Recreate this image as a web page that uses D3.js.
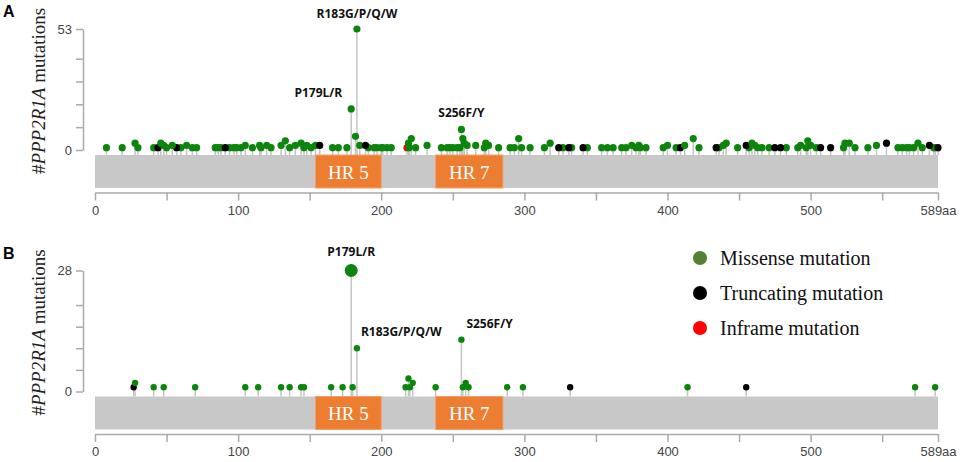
<!DOCTYPE html>
<html>
<head>
<meta charset="utf-8">
<script src="https://cdn.jsdelivr.net/npm/d3@7"></script>
<style>
  body { margin: 0; background: #fff; }
  svg { display: block; }
</style>
</head>
<body>
<svg id="chart"></svg>
<script>
// protein length and domains
var proteinLength = 589;
var domainNames = ["HR 5", "HR 7"];
var domainStarts = [154, 238];
var domainEnds = [200, 285];

// panel A mutations: [amino acid, count]
var missenseA = [
  [8, 1], [19, 1], [28, 3], [30, 1], [41, 1], [46, 3], [48, 2], [50, 1], [54, 2], [60, 1],
  [64, 2], [68, 1], [71, 1], [84, 1], [86, 1], [88, 1], [94, 1], [97, 1], [99, 1], [102, 1],
  [105, 2], [110, 1], [115, 2], [116, 1], [120, 2], [123, 1], [130, 2], [133, 4], [136, 1], [140, 2],
  [144, 3], [146, 1], [148, 2], [151, 1], [154, 2], [166, 1], [170, 1], [176, 1], [179, 18], [182, 6],
  [183, 53], [185, 2], [191, 1], [195, 1], [197, 1], [200, 1], [201, 1], [204, 1], [207, 1], [219, 3],
  [219.5, 1], [221, 5], [224, 1], [232, 2], [242, 1], [246, 1], [248, 1], [250, 1], [253, 1], [255, 1], [256, 9],
  [257, 5], [258, 3], [260, 2], [266, 2], [272, 1], [273, 3], [275, 2], [282, 1], [290, 1], [293, 1],
  [296, 5], [298, 1], [304, 1], [314, 1], [318, 3], [327, 1], [333, 1], [344, 1], [354, 1], [358, 1],
  [362, 1], [368, 1], [371, 1], [375, 2], [378, 1], [380, 2], [381, 1], [385, 1], [397, 1], [400, 2],
  [406, 1], [412, 2], [418, 5], [422, 1], [436, 1], [439, 2], [441, 3], [449, 1], [457, 1], [459, 3],
  [461, 2], [463, 1], [466, 1], [471, 1], [483, 1], [491, 1], [493, 2], [497, 1], [498, 4], [500, 2],
  [504, 1], [523, 1], [524, 3], [527, 3], [531, 1], [540, 1], [546, 2], [561, 1], [564, 1], [567, 1],
  [569, 1], [572, 1], [575, 3], [578, 1], [586, 1], [587, 1]
];
var truncatingA = [
  [44, 1], [57, 1], [91, 1], [157, 2], [189, 2], [324, 1], [331, 1], [341, 1], [409, 1], [434, 1],
  [455, 2], [475, 1], [479, 1], [507, 1], [514, 1], [553, 3], [583, 2], [589, 1]
];
var inframeA = [[218, 1]];
var hotspotsA = [[183, "R183G/P/Q/W"], [179, "P179L/R"], [256, "S256F/Y"]];

// panel B mutations
var missenseB = [
  [28, 2], [41, 1], [48, 1], [70, 1], [105, 1], [114, 1], [130, 1], [136, 1], [144, 1], [146, 1],
  [165, 1], [173, 1], [179, 28], [180, 1], [183, 10], [217, 1], [219, 3], [220, 1], [222, 2], [238, 1],
  [256, 12], [257, 1], [259, 2], [261, 1], [288, 1], [299, 1], [414, 1], [573, 1], [587, 1]
];
var truncatingB = [[27, 1], [332, 1], [455, 1]];
var inframeB = [];
var hotspotsB = [[179, "P179L/R"], [183, "R183G/P/Q/W"], [256, "S256F/Y"]];

var legendNames = ["Missense mutation", "Truncating mutation", "Inframe mutation"];
var legendColors = ["#548235", "#000000", "#ff0000"];

var width = 961, height = 462;
var dotColors = { missense: "#0b850b", truncating: "#000000", inframe: "#ff0000" };

var svg = d3.select("#chart").attr("width", width).attr("height", height);

var x = d3.scaleLinear().domain([0, proteinLength]).range([95, 938]);

function buildMuts(missense, truncating, inframe) {
  var all = [];
  inframe.forEach((d) => all.push({ pos: d[0], count: d[1], type: "inframe" }));
  missense.forEach((d) => all.push({ pos: d[0], count: d[1], type: "missense" }));
  truncating.forEach((d) => all.push({ pos: d[0], count: d[1], type: "truncating" }));
  // draw short lollipops first so tall ones stay on top
  return all.sort((a, b) => a.count - b.count);
}

function drawPanel(top, letter, muts, hotspots, labelStyle, bigMax) {
  var g = svg.append("g").attr("transform", `translate(0, ${top})`);
  var maxCount = d3.max(muts, (d) => d.count);

  var y = d3.scaleLinear().domain([0, maxCount]).range([150, 29]);

  // panel letter
  g.append("text")
    .attr("x", 3)
    .attr("y", 17)
    .attr("font-family", "Liberation Sans, Arial, sans-serif")
    .attr("font-weight", "bold")
    .attr("font-size", 16)
    .text(letter);

  // y axis label
  var yl = g.append("text")
    .attr("transform", "translate(45, 91) rotate(-90)")
    .attr("text-anchor", "middle")
    .attr("font-family", "Liberation Serif, Times New Roman, serif")
    .attr("font-size", 19)
    .attr("fill", "#222");
  yl.append("tspan").text("#");
  yl.append("tspan").attr("font-style", "italic").text("PPP2R1A");
  yl.append("tspan").text(" mutations");

  // y axis
  var yTicks = y.ticks(5).slice(0, -1).concat([maxCount]);
  var yAxis = g.append("g")
    .attr("transform", "translate(83, 0)")
    .call(
      d3.axisLeft(y)
        .tickValues(yTicks)
        .tickSize(7)
        .tickSizeOuter(0)
        .tickPadding(4)
        .tickFormat((d) => (d === 0 || d === maxCount ? d : ""))
    );
  yAxis.select(".domain").attr("stroke", "#aaa").attr("stroke-width", 1.5);
  yAxis.selectAll(".tick line").attr("stroke", "#aaa").attr("stroke-width", 1.5);
  yAxis.selectAll(".tick text")
    .attr("font-family", "Liberation Sans, Arial, sans-serif")
    .attr("font-size", 13)
    .attr("fill", "#444");

  // stems
  g.selectAll("line.stem")
    .data(muts)
    .enter()
    .append("line")
    .attr("class", "stem")
    .attr("x1", (d) => x(d.pos))
    .attr("x2", (d) => x(d.pos))
    .attr("y1", 155)
    .attr("y2", (d) => y(d.count))
    .attr("stroke", "#c4c4c4")
    .attr("stroke-width", 1.5);

  // protein bar
  g.append("rect")
    .attr("x", x(0))
    .attr("y", 155)
    .attr("width", x(proteinLength) - x(0))
    .attr("height", 33)
    .attr("fill", "#c8c8c8");

  // domains
  domainNames.forEach((name, i) => {
    g.append("rect")
      .attr("x", x(domainStarts[i]))
      .attr("y", 155)
      .attr("width", x(domainEnds[i]) - x(domainStarts[i]))
      .attr("height", 33)
      .attr("fill", "#ed7d31")
      .attr("stroke", "#f3a070")
      .attr("stroke-width", 1);
    g.append("text")
      .attr("x", (x(domainStarts[i]) + x(domainEnds[i])) / 2)
      .attr("y", 178.5)
      .attr("text-anchor", "middle")
      .attr("font-family", "Liberation Serif, Times New Roman, serif")
      .attr("font-size", 19)
      .attr("fill", "#fff")
      .text(name);
  });

  // dots
  g.selectAll("circle.mut")
    .data(muts)
    .enter()
    .append("circle")
    .attr("class", "mut")
    .attr("cx", (d) => x(d.pos))
    .attr("cy", (d) => y(d.count))
    .attr("r", (d) => (bigMax && d.count === maxCount ? 6.5 : bigMax ? 3.2 : 3.6))
    .attr("fill", (d) => dotColors[d.type]);

  // hotspot labels
  var byPos = {};
  muts.forEach((d) => {
    if (!byPos[d.pos] || byPos[d.pos].count < d.count) byPos[d.pos] = d;
  });
  hotspots.forEach((h) => {
    var m = byPos[h[0]];
    var st = labelStyle[h[0]];
    g.append("text")
      .attr("x", x(h[0]) + st.dx)
      .attr("y", y(m.count) - st.dy)
      .attr("text-anchor", st.anchor)
      .attr("font-family", "Open Sans, sans-serif")
      .attr("font-weight", "bold")
      .attr("font-size", 12)
      .attr("fill", "#111")
      .text(h[1]);
  });

  // x axis
  var xTicks = d3.range(0, proteinLength, 50).concat([proteinLength]);
  var xAxis = g.append("g")
    .attr("transform", "translate(0, 192.5)")
    .call(
      d3.axisBottom(x)
        .tickValues(xTicks)
        .tickSize(8)
        .tickSizeOuter(0)
        .tickPadding(5)
        .tickFormat((d) => (d === proteinLength ? d + "aa" : d % 100 === 0 ? d : ""))
    );
  xAxis.select(".domain").attr("stroke", "#aaa").attr("stroke-width", 1.5);
  xAxis.selectAll(".tick line").attr("stroke", "#aaa").attr("stroke-width", 1.5);
  xAxis.selectAll(".tick text")
    .attr("font-family", "Liberation Sans, Arial, sans-serif")
    .attr("font-size", 13)
    .attr("fill", "#444");
}

drawPanel(0, "A", buildMuts(missenseA, truncatingA, inframeA), hotspotsA, {
  183: { dx: 0, dy: 11, anchor: "middle" },
  179: { dx: -9, dy: 12, anchor: "end" },
  256: { dx: 0, dy: 12, anchor: "middle" }
}, false);

drawPanel(241.5, "B", buildMuts(missenseB, truncatingB, inframeB), hotspotsB, {
  179: { dx: 0, dy: 15, anchor: "middle" },
  183: { dx: 4, dy: 12, anchor: "start" },
  256: { dx: 5, dy: 12, anchor: "start" }
}, true);

// legend
var legend = svg.append("g").attr("class", "legend");
legendNames.forEach((name, i) => {
  var ly = 258 + i * 35;
  legend.append("circle")
    .attr("cx", 700)
    .attr("cy", ly)
    .attr("r", 7)
    .attr("fill", legendColors[i]);
  legend.append("text")
    .attr("x", 720)
    .attr("y", ly + 6.5)
    .attr("font-family", "Liberation Serif, Times New Roman, serif")
    .attr("font-size", 20)
    .attr("fill", "#111")
    .text(name);
});
</script>
</body>
</html>
